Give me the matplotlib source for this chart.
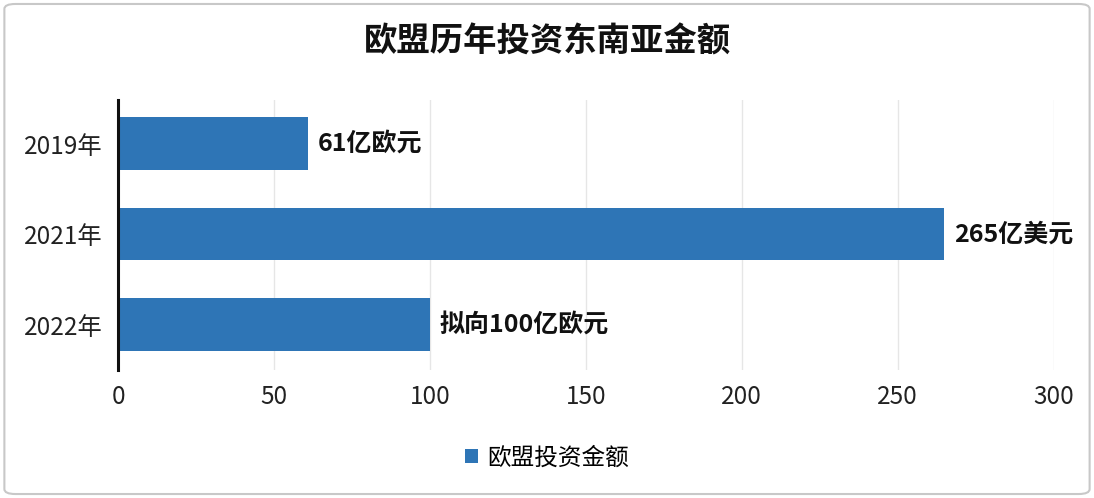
import matplotlib
matplotlib.use("Agg")
import matplotlib.pyplot as plt
from matplotlib.patches import FancyBboxPatch

plt.rcParams['font.family'] = ['Noto Sans CJK SC', 'DejaVu Sans']

categories = ["2019年", "2021年", "2022年"]
values = [61, 265, 100]
labels = ["61亿欧元", "265亿美元", "拟向100亿欧元"]
series_name = "欧盟投资金额"
title = "欧盟历年投资东南亚金额"
xticks = [0, 50, 100, 150, 200, 250, 300]

color = "#2E75B6"

fig = plt.figure(figsize=(10.94, 4.98), dpi=100)
ax = fig.add_axes([0.108, 0.257, 0.855, 0.542])

ypos = list(range(len(categories)))
bars = ax.barh(ypos, values, height=0.58, color=color, label=series_name, zorder=3)
ax.set_ylim(2.5, -0.48)
ax.set_xlim(0, 300)
ax.set_xticks(xticks)
ax.set_yticks(ypos)
ax.set_yticklabels(categories)
ax.tick_params(axis='both', length=0, labelsize=17.5, colors="#222222")
ax.tick_params(axis='x', pad=10)
ax.tick_params(axis='y', pad=11)
ax.grid(axis='x', color="#e6e6e6", linewidth=1, zorder=0)
for s in ["top", "right", "bottom"]:
    ax.spines[s].set_visible(False)
ax.spines["left"].set_color("#111111")
ax.spines["left"].set_linewidth(2.2)
ax.spines["left"].set_zorder(4)

for b, lab in zip(bars, labels):
    ax.text(b.get_width() + 3, b.get_y() + b.get_height() / 2, lab,
            va='center', ha='left', fontsize=18, fontweight='bold', color="#111111")

fig.text(0.5, 0.915, title, ha='center', va='center', fontsize=24, fontweight='bold', color="#111111")

leg = fig.legend(handles=[bars], labels=[series_name], loc='center', bbox_to_anchor=(0.5, 0.08),
                 frameon=False, fontsize=17, handlelength=0.55, handleheight=0.55, handletextpad=0.4)

border = FancyBboxPatch((0.004, 0.008), 0.992, 0.984, boxstyle="round,pad=0,rounding_size=0.01",
                        transform=fig.transFigure, fill=False, edgecolor="#c8c8c8", linewidth=1.5)
fig.patches.append(border)

fig.savefig("out.png", dpi=100)
